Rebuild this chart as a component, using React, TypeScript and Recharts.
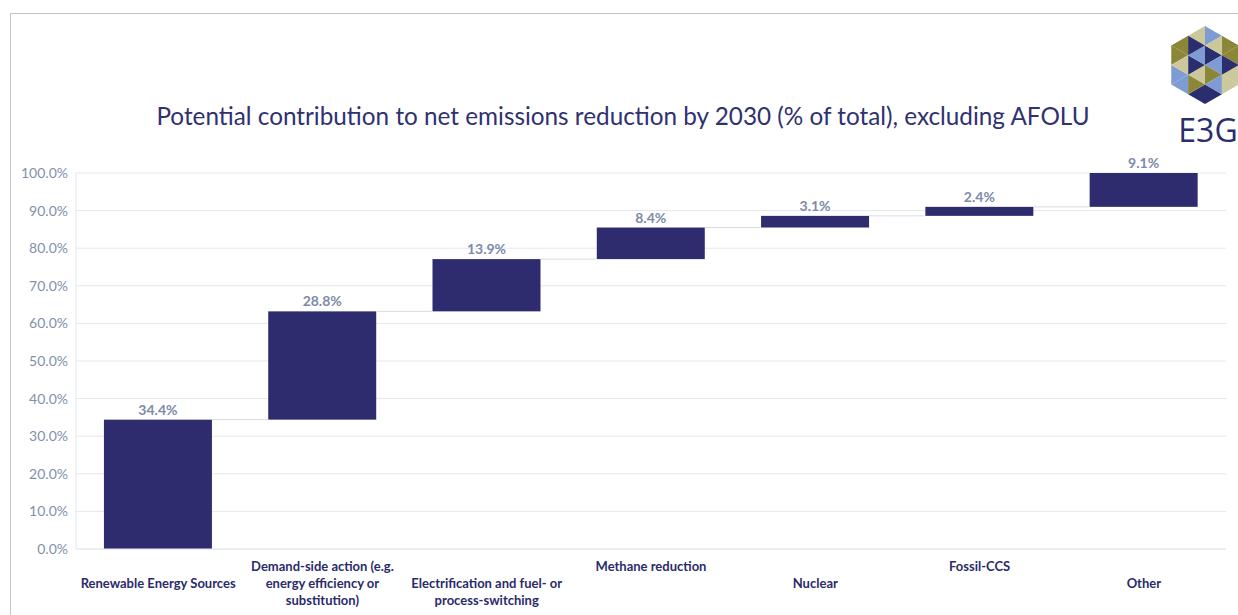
import { BarChart, Bar, XAxis, YAxis, CartesianGrid, LabelList } from 'recharts';

const categories = [
  'Renewable Energy Sources',
  'Demand-side action (e.g. energy efficiency or substitution)',
  'Electrification and fuel- or process-switching',
  'Methane reduction',
  'Nuclear',
  'Fossil-CCS',
  'Other',
];

const tickLines = [
  ['Renewable Energy Sources'],
  ['Demand-side action (e.g.', 'energy efficiency or', 'substitution)'],
  ['Electrification and fuel- or', 'process-switching'],
  ['Methane reduction'],
  ['Nuclear'],
  ['Fossil-CCS'],
  ['Other'],
];

const shares = [34.4, 28.8, 13.9, 8.4, 3.1, 2.4, 9.1];

const yTicks = [0, 10, 20, 30, 40, 50, 60, 70, 80, 90, 100];

const GAP = 0.17;
const NAVY = '#2e2c6e';

const data = categories.map((name, i) => ({
  name,
  base: shares.slice(0, i).reduce((a, b) => a + b, 0),
  value: shares[i],
}));

function StepBar(props: any) {
  const { x, y, width, height, index } = props;
  const span = (width * 2 * GAP) / (1 - 2 * GAP);
  return (
    <g>
      <rect x={x} y={y} width={width} height={height} fill={NAVY} />
      {index < categories.length - 1 && (
        <line x1={x + width} x2={x + width + span} y1={y} y2={y} stroke="#d6dae2" strokeWidth={1} />
      )}
    </g>
  );
}

function CategoryTick(props: any) {
  const { x, y, index } = props;
  const lines = tickLines[index] || [];
  const first = index % 2 === 1 ? 14 : 31;
  return (
    <text x={x} y={y + first} textAnchor="middle" fill="#2b2b6b" fontSize={13} fontWeight={700}
      fontFamily="Lato, 'Open Sans', sans-serif">
      {lines.map((l, k) => (
        <tspan key={k} x={x} dy={k === 0 ? 0 : 17}>{l}</tspan>
      ))}
    </text>
  );
}

function Logo() {
  const cx = 1205, cy = 65, r = 39;
  const v = [0, 1, 2, 3, 4, 5].map((k) => {
    const a = ((-90 + 60 * k) * Math.PI) / 180;
    return [cx + r * Math.cos(a), cy + r * Math.sin(a)];
  });
  const palette = ['#2a2d6e', '#7f9bd4', '#8c8638', '#cbc89b'];
  const tris: { pts: number[][]; c: string }[] = [];
  const mid = (p: number[], q: number[]) => [(p[0] + q[0]) / 2, (p[1] + q[1]) / 2];
  const center = [cx, cy];
  for (let k = 0; k < 6; k++) {
    const a = center, b = v[k], c = v[(k + 1) % 6];
    const ab = mid(a, b), bc = mid(b, c), ca = mid(c, a);
    tris.push({ pts: [a, ab, ca], c: palette[k % 4] });
    tris.push({ pts: [ab, b, bc], c: palette[(k + 1) % 4] });
    tris.push({ pts: [ca, bc, c], c: palette[(k + 2) % 4] });
    tris.push({ pts: [ab, bc, ca], c: palette[(k + 3) % 4] });
  }
  return (
    <svg width={1238} height={615} style={{ position: 'absolute', left: 0, top: 0, pointerEvents: 'none' }}>
      {tris.map((t, i) => (
        <polygon key={i} points={t.pts.map((p) => p.join(',')).join(' ')} fill={t.c} />
      ))}
      <text x={1208} y={142} textAnchor="middle" fontSize={32} fill="#2b2d6e"
        fontFamily="'Open Sans', sans-serif">E3G</text>
    </svg>
  );
}

export default function App() {
  return (
    <div style={{ position: 'absolute', left: 0, top: 0, width: 1238, height: 615, background: '#fff', overflow: 'hidden' }}>
      <div style={{ position: 'absolute', left: 10, top: 13, width: 1240, height: 620, borderLeft: '1px solid #c4c4c4', borderTop: '1px solid #c4c4c4' }} />
      <div style={{ position: 'absolute', left: 0, top: 101, width: 1246, textAlign: 'center', fontFamily: "Lato, 'Open Sans', sans-serif", fontSize: 24.3, color: '#2f3170' }}>
        Potential contribution to net emissions reduction by 2030 (% of total), excluding AFOLU
      </div>
      <div style={{ position: 'absolute', left: 0, top: 0 }}>
        <BarChart width={1238} height={615} data={data} margin={{ top: 173, right: 12, bottom: 0, left: 6 }}
          barCategoryGap={`${GAP * 100}%`}>
          <CartesianGrid vertical={false} stroke="#e3e7ee" />
          <XAxis dataKey="name" height={66} axisLine={{ stroke: '#e3e7ee' }} tickLine={false}
            interval={0} tick={<CategoryTick />} />
          <YAxis domain={[0, 100]} ticks={yTicks} allowDataOverflow width={70}
            axisLine={{ stroke: '#e3e7ee' }} tickLine={false}
            tickFormatter={(v: number) => `${v.toFixed(1)}%`}
            tick={{ fill: '#8190ad', fontSize: 14, fontFamily: "Lato, 'Open Sans', sans-serif" }} />
          <Bar dataKey="base" stackId="w" fill="transparent" isAnimationActive={false} />
          <Bar dataKey="value" stackId="w" shape={<StepBar />} isAnimationActive={false}>
            <LabelList dataKey="value" position="top" offset={5}
              formatter={(v: any) => `${Number(v).toFixed(1)}%`}
              style={{ fill: '#7d8aa8', fontSize: 14, fontWeight: 700, fontFamily: "Lato, 'Open Sans', sans-serif" }} />
          </Bar>
        </BarChart>
      </div>
      <Logo />
    </div>
  );
}
